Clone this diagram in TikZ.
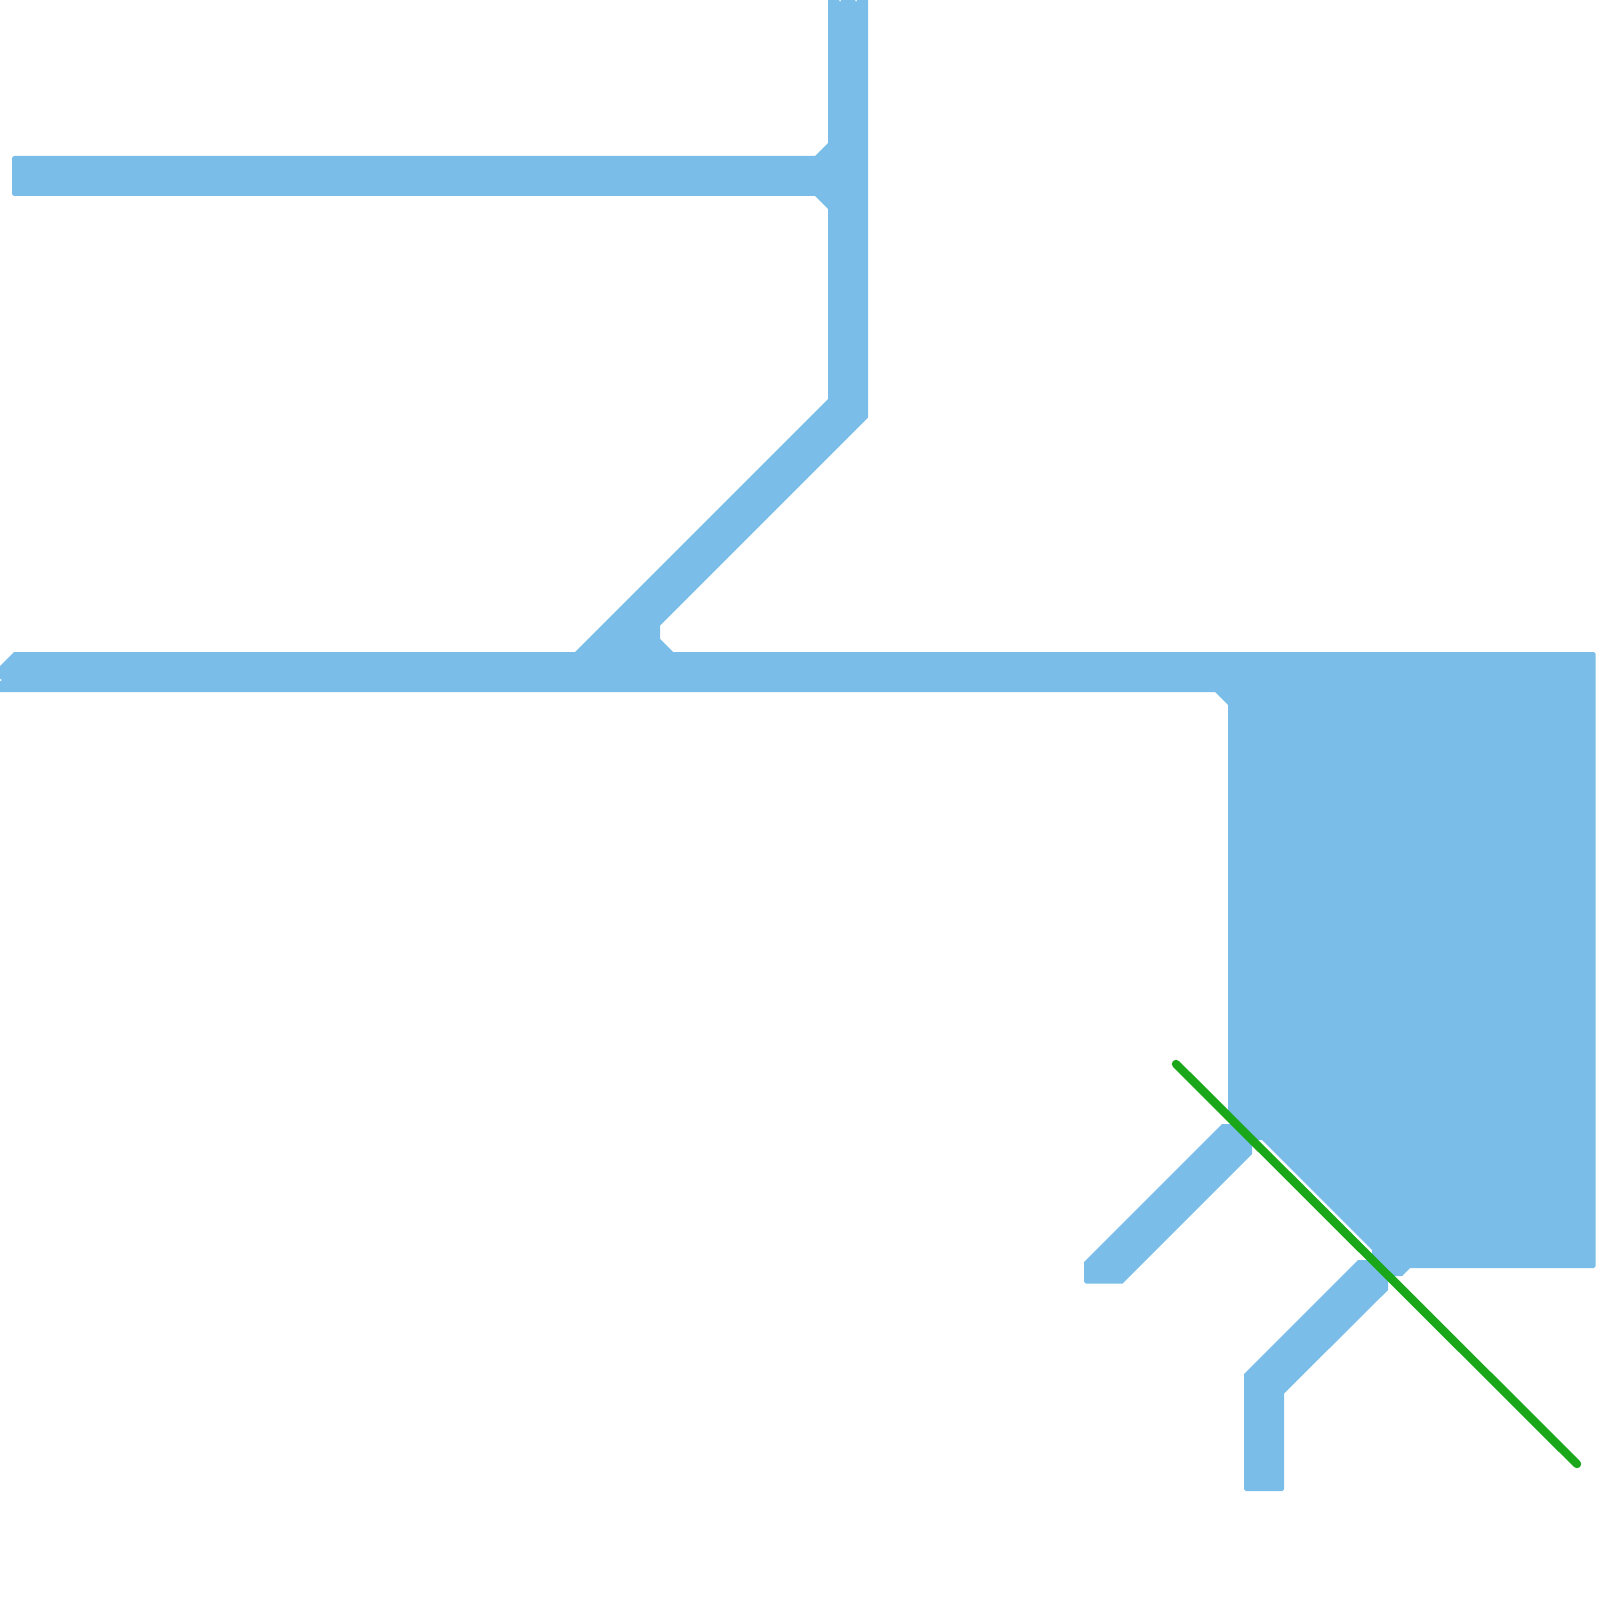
\documentclass[tikz,border=0pt]{standalone}
\usepackage{tikz}

\definecolor{ductblue}{RGB}{122,189,232}
\definecolor{cutgreen}{RGB}{26,168,26}

\begin{document}
\begin{tikzpicture}[x=0.01cm, y=-0.01cm]
    \tikzset{duct/.style={fill=ductblue, draw=none},
             cutline/.style={draw=cutgreen, line width=2.4pt, line cap=round}}
    \useasboundingbox (0,0) rectangle (1600,1600);
    % main run with the block
    \fill[duct] (828,-1) -- (838.5,-1) -- (840,2) -- (841.5,-1) -- (854.5,-1) -- (856,2) -- (857.5,-1)
        -- (868,-1) -- (868,417.5) -- (660,625.5) -- (660,639) -- (673,652)
        [rounded corners=0.5pt] -- (1595.7,652) -- (1595.7,1268) [sharp corners]
        -- (1410,1268) -- (1402,1276) -- (1393,1276) -- (1372,1255) -- (1372,1250) -- (1262,1140) -- (1256,1140)
        -- (1228,1112) -- (1228,705) -- (1215,692) -- (-1,692) -- (-1,682) -- (2,680) -- (-1,678)
        -- (-1,667) -- (14,652) -- (575,652) -- (828,399) -- (828,209) -- (815,196)
        [rounded corners=0.5pt] -- (12,196) -- (12,156) [sharp corners]
        -- (815,156) -- (828,143) -- cycle;
    % two short branches
    \fill[duct] (1222,1124) -- (1235,1124) -- (1252,1141) -- (1252,1154) -- (1122.5,1283.5)
        [rounded corners=0.5pt] -- (1084,1283.5) [sharp corners] -- (1084,1262) -- cycle;
    \fill[duct] (1358,1260) -- (1370,1260) -- (1388,1278) -- (1388,1290) -- (1284,1393.5)
        [rounded corners=0.5pt] -- (1284,1491) -- (1244,1491) [sharp corners] -- (1244,1374) -- cycle;
    % section line
    \coordinate (cutstart) at (1176,1064);
    \coordinate (cutend) at (1577,1464);
    \draw[cutline] (cutstart) -- (cutend);
\end{tikzpicture}
\end{document}
